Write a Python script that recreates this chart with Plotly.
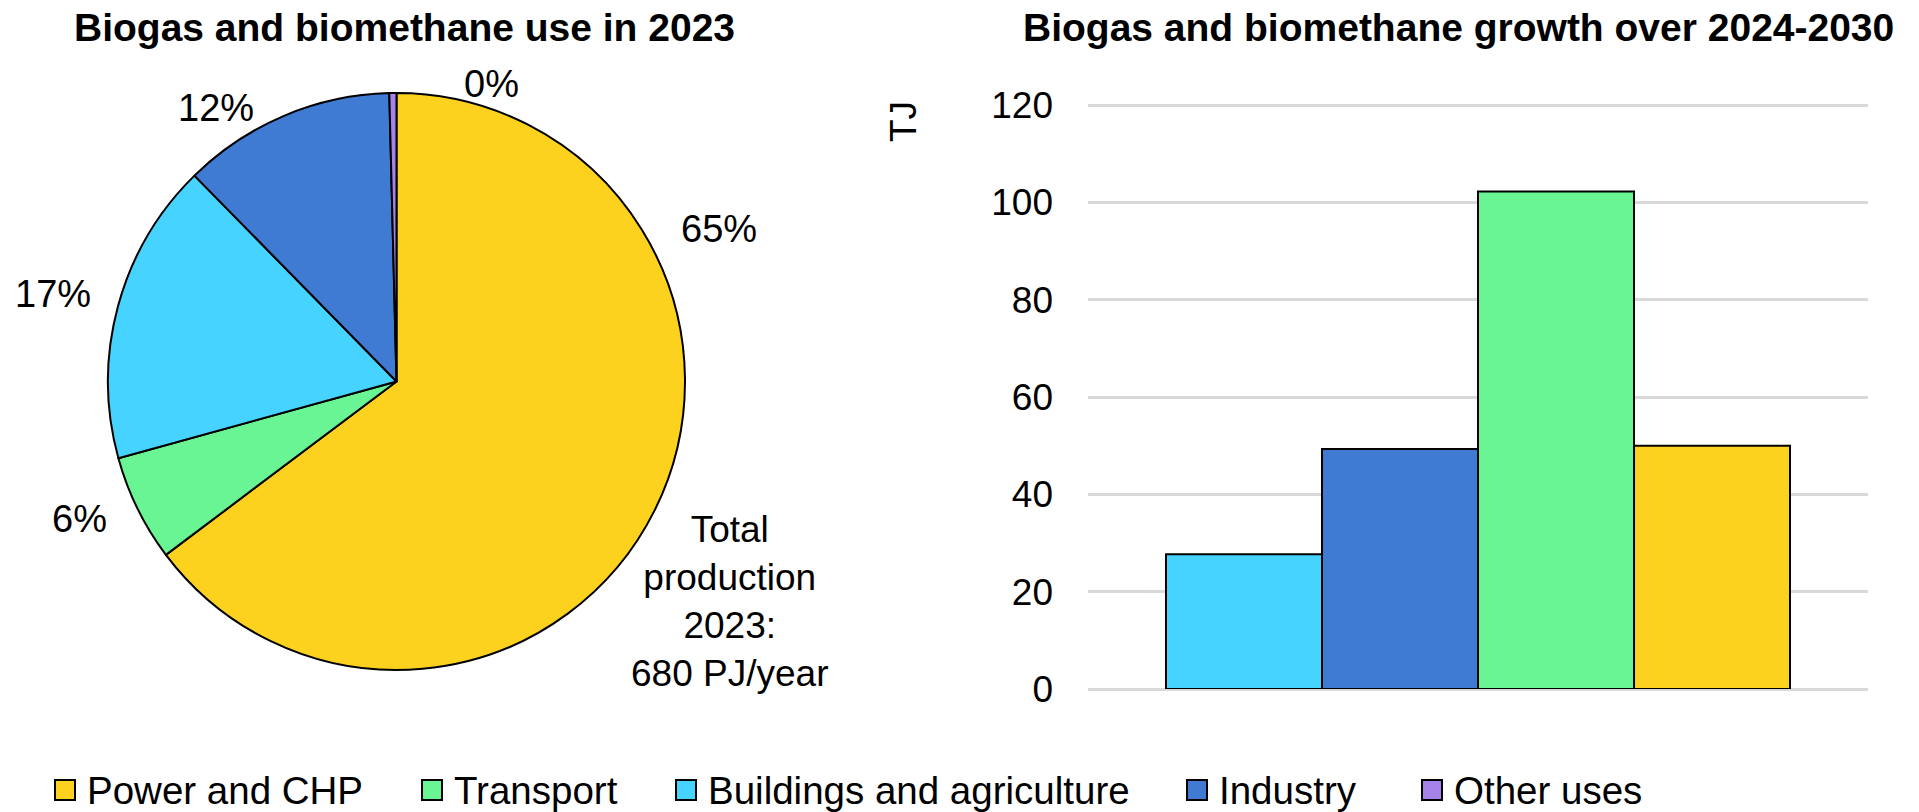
import plotly.graph_objects as go

# Biogas and biomethane end uses, share of 2023 consumption (%)
uses = ["Power and CHP", "Transport", "Buildings and agriculture", "Industry", "Other uses"]
share_2023 = [65, 6, 17, 12, 0.4]
use_colors = ["#FCD21F", "#69F594", "#47D3FF", "#3F7AD3", "#A682EA"]

# Growth over 2024-2030 by end use (TJ)
growth_uses = ["Buildings and agriculture", "Industry", "Transport", "Power and CHP"]
growth_tj = [27.7, 49.3, 102.2, 50.0]
y_ticks = [0, 20, 40, 60, 80, 100, 120]

total_production_pj = 680

W, H = 1919, 812
FONT = "Liberation Sans, Arial, sans-serif"
color_of = dict(zip(uses, use_colors))


def px(x):
    return x / W


def py(y):
    return 1 - y / H


fig = go.Figure()

# Left panel: pie of 2023 use
fig.add_trace(go.Pie(
    labels=uses,
    values=share_2023,
    sort=False,
    direction="clockwise",
    rotation=0,
    textinfo="none",
    marker=dict(colors=use_colors, line=dict(color="black", width=2)),
    domain=dict(x=[px(108), px(685)], y=[py(670), py(93)]),
    showlegend=False,
    automargin=False,
))

# Right panel: grouped bars, one per end use
for name, val in zip(growth_uses, growth_tj):
    fig.add_trace(go.Bar(
        x=["2024-2030"],
        y=[val],
        name=name,
        marker=dict(color=color_of[name], line=dict(color="black", width=2)),
        showlegend=False,
    ))

# value axis: 0 at y=689px, 120 at y=105px; a little headroom so the top gridline is kept
y_top = 121
px_per_unit = (689 - 105) / 120

fig.update_layout(
    width=W,
    height=H,
    margin=dict(l=0, r=0, t=0, b=0, autoexpand=False),
    paper_bgcolor="white",
    plot_bgcolor="white",
    font=dict(family=FONT, color="black", size=37),
    showlegend=False,
    barmode="group",
    bargap=0.2,
    bargroupgap=0,
    xaxis=dict(
        domain=[px(1088), px(1868)],
        type="category",
        range=[-0.5, 0.5],
        showticklabels=False,
        showgrid=False,
        showline=False,
        zeroline=False,
        ticks="",
        automargin=False,
    ),
    yaxis=dict(
        domain=[py(689), py(689 - y_top * px_per_unit)],
        range=[0, y_top],
        tickvals=y_ticks,
        tickfont=dict(size=37),
        showgrid=True,
        gridcolor="#D9D9D9",
        gridwidth=3,
        zeroline=True,
        zerolinecolor="#D9D9D9",
        zerolinewidth=3,
        showline=False,
        ticks="",
        ticklabelstandoff=34,
        automargin=False,
    ),
)

annotations = []

# Panel titles
annotations.append(dict(text="<b>Biogas and biomethane use in 2023</b>", x=px(404), y=py(27),
                        xref="paper", yref="paper", showarrow=False,
                        xanchor="center", yanchor="middle", font=dict(size=39)))
annotations.append(dict(text="<b>Biogas and biomethane growth over 2024-2030</b>", x=px(1458), y=py(27),
                        xref="paper", yref="paper", showarrow=False,
                        xanchor="center", yanchor="middle", font=dict(size=39)))

# Y-axis unit
annotations.append(dict(text="TJ", x=px(904), y=py(122), xref="paper", yref="paper",
                        showarrow=False, textangle=-90, xanchor="center", yanchor="middle",
                        font=dict(size=37)))

# Pie percentage labels
total = sum(share_2023)
label_pos = [(719, 229), (79, 519), (53, 294), (216, 108), (491, 84)]
for v, (lx, ly) in zip(share_2023, label_pos):
    annotations.append(dict(text=f"{round(v / total * 100)}%", x=px(lx), y=py(ly),
                            xref="paper", yref="paper", showarrow=False,
                            xanchor="center", yanchor="middle", font=dict(size=38)))

annotations.append(dict(text=f"Total<br>production<br>2023:<br>{total_production_pj} PJ/year",
                        x=px(729), y=py(601), xref="paper", yref="paper", showarrow=False,
                        xanchor="center", yanchor="middle", align="center",
                        font=dict(size=37)))

# Legend row along the bottom
legend_x = [55, 422, 676, 1187, 1422]
shapes = []
for name, lx in zip(uses, legend_x):
    shapes.append(dict(type="rect", xref="paper", yref="paper",
                       x0=px(lx), x1=px(lx + 20), y0=py(800), y1=py(780),
                       fillcolor=color_of[name], line=dict(color="black", width=2)))
    annotations.append(dict(text=name, x=px(lx + 30), y=py(790), xref="paper", yref="paper",
                            showarrow=False, xanchor="left", yanchor="middle",
                            font=dict(size=38.5)))

fig.update_layout(annotations=annotations, shapes=shapes)

fig.write_html("out.html")
